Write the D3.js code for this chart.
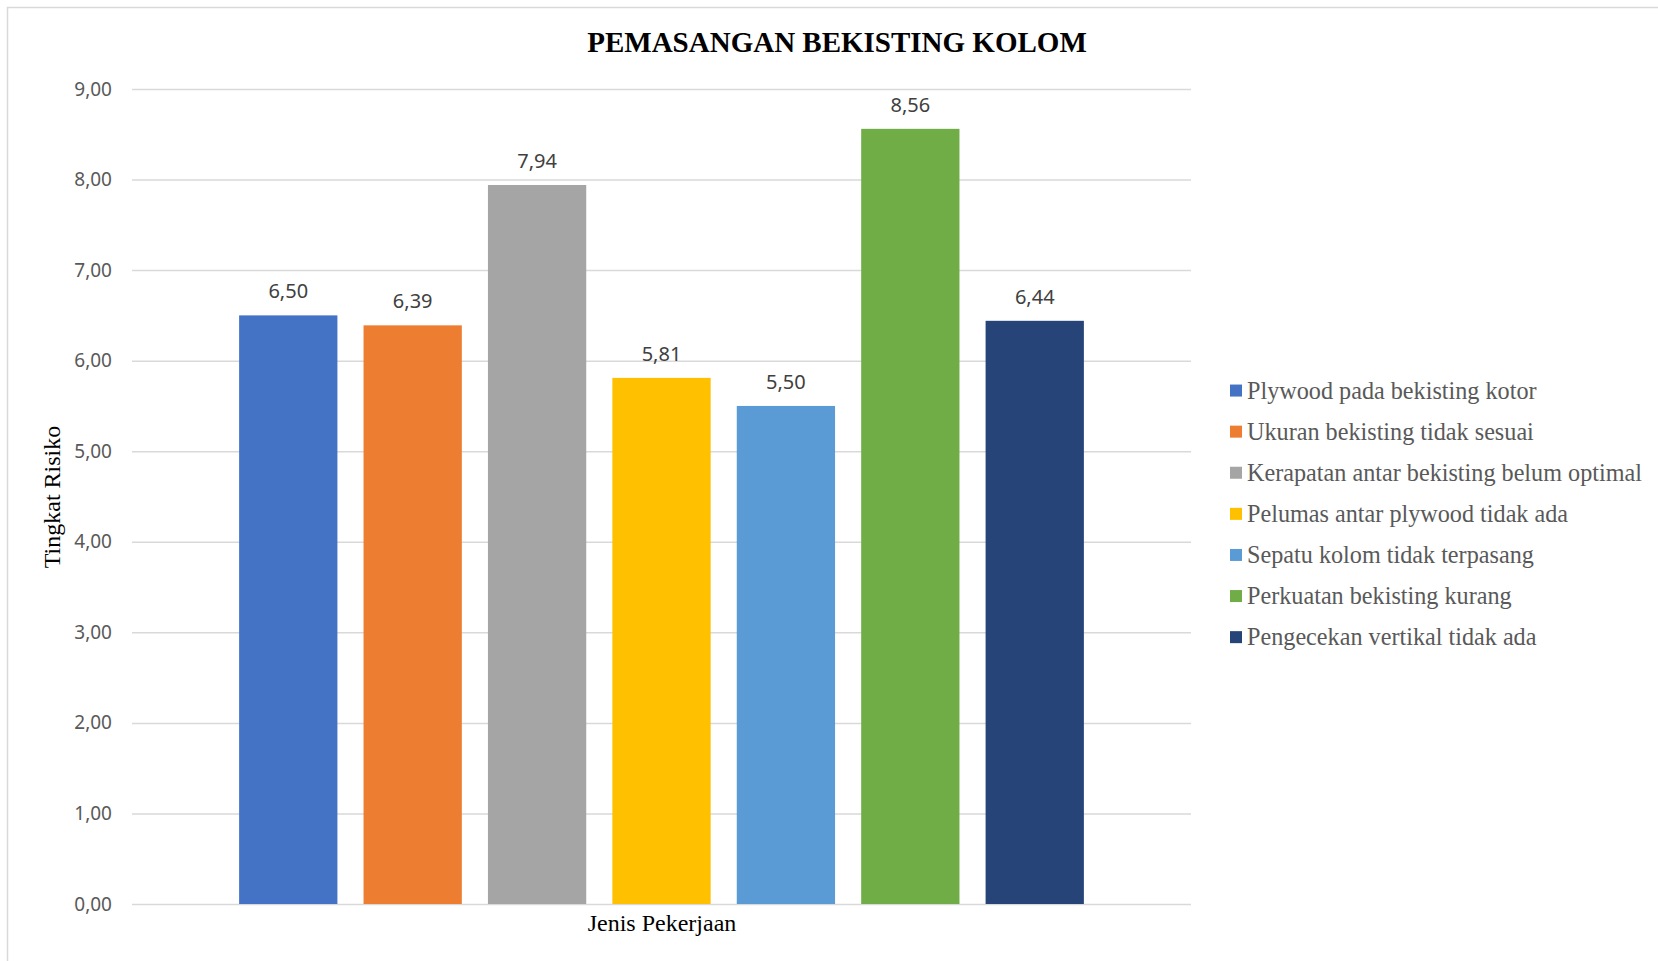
<!DOCTYPE html>
<html>
<head>
<meta charset="utf-8">
<script src="https://cdn.jsdelivr.net/npm/d3@7"></script>
<style>
  body { margin: 0; background: #fff; }
</style>
</head>
<body>
<div id="wrapper"></div>
<script>
// Data
const categories = [
    "Plywood pada bekisting kotor",
    "Ukuran bekisting tidak sesuai",
    "Kerapatan antar bekisting belum optimal",
    "Pelumas antar plywood tidak ada",
    "Sepatu kolom tidak terpasang",
    "Perkuatan bekisting kurang",
    "Pengecekan vertikal tidak ada",
];
const values = [6.50, 6.39, 7.94, 5.81, 5.50, 8.56, 6.44];
const colors = ["#4472C4", "#ED7D31", "#A5A5A5", "#FFC000", "#5B9BD5", "#70AD47", "#264478"];
const yTicks = [0, 1, 2, 3, 4, 5, 6, 7, 8, 9];

const fmt = v => v.toFixed(2).replace(".", ",");

const drawChart = () => {
    const dimensions = {
        width: 1658,
        height: 961,
        plotLeft: 132,
        plotRight: 1191,
        plotTop: 89,
        plotBottom: 904,
    };

    const svg = d3.select("#wrapper")
        .append("svg")
        .attr("width", dimensions.width)
        .attr("height", dimensions.height);

    // outer frame (only top and left visible)
    svg.append("rect")
        .attr("x", 7.5)
        .attr("y", 7.5)
        .attr("width", 1800)
        .attr("height", 1200)
        .attr("fill", "none")
        .attr("stroke", "#d9d9d9")
        .attr("stroke-width", 1.5);

    // Scales
    const xScale = d3.scaleBand()
        .domain(categories)
        .range([dimensions.plotLeft, dimensions.plotRight])
        .paddingInner(0.21)
        .paddingOuter(0.861);
    const yScale = d3.scaleLinear()
        .domain([0, 9])
        .range([dimensions.plotBottom, dimensions.plotTop]);

    // Gridlines + y axis
    const yAxisGenerator = d3.axisLeft(yScale)
        .tickValues(yTicks)
        .tickFormat(fmt)
        .tickSize(-(dimensions.plotRight - dimensions.plotLeft))
        .tickPadding(20);
    const yAxis = svg.append("g")
        .attr("transform", `translate(${dimensions.plotLeft},0)`)
        .call(yAxisGenerator);
    yAxis.select(".domain").remove();
    yAxis.selectAll(".tick line")
        .attr("stroke", "#d9d9d9")
        .attr("stroke-width", 1.5);
    yAxis.selectAll(".tick text")
        .attr("fill", "#595959")
        .style("font-family", "'Noto Sans', 'Open Sans', sans-serif")
        .style("font-size", "19px");

    // Bars
    const data = categories.map((c, i) => ({ name: c, value: values[i], color: colors[i] }));
    svg.append("g")
        .selectAll("rect")
        .data(data)
        .enter().append("rect")
        .attr("x", d => xScale(d.name))
        .attr("y", d => yScale(d.value))
        .attr("width", xScale.bandwidth())
        .attr("height", d => yScale(0) - yScale(d.value))
        .attr("fill", d => d.color);

    // Value labels
    svg.append("g")
        .selectAll("text")
        .data(data)
        .enter().append("text")
        .attr("x", d => xScale(d.name) + xScale.bandwidth() / 2)
        .attr("y", d => yScale(d.value) - 17)
        .attr("text-anchor", "middle")
        .attr("fill", "#404040")
        .style("font-family", "'Noto Sans', 'Open Sans', sans-serif")
        .style("font-size", "20px")
        .text(d => fmt(d.value));

    // Title
    svg.append("text")
        .attr("x", 837)
        .attr("y", 52)
        .attr("text-anchor", "middle")
        .attr("fill", "#000")
        .style("font-family", "'Liberation Serif', 'Times New Roman', serif")
        .style("font-weight", "bold")
        .style("font-size", "29px")
        .text("PEMASANGAN BEKISTING KOLOM");

    // Axis titles
    svg.append("text")
        .attr("x", 662)
        .attr("y", 931)
        .attr("text-anchor", "middle")
        .attr("fill", "#000")
        .style("font-family", "'Liberation Serif', 'Times New Roman', serif")
        .style("font-size", "24px")
        .text("Jenis Pekerjaan");
    svg.append("text")
        .attr("transform", "translate(60,497) rotate(-90)")
        .attr("text-anchor", "middle")
        .attr("fill", "#000")
        .style("font-family", "'Liberation Serif', 'Times New Roman', serif")
        .style("font-size", "24px")
        .text("Tingkat Risiko");

    // Legend
    const legendY = d3.scaleBand()
        .domain(categories)
        .range([370, 370 + 41.1 * categories.length]);
    const legend = svg.append("g")
        .selectAll("g")
        .data(data)
        .enter().append("g")
        .attr("transform", d => `translate(1230,${legendY(d.name) + legendY.bandwidth() / 2})`);
    legend.append("rect")
        .attr("x", 0)
        .attr("y", -6)
        .attr("width", 12)
        .attr("height", 12)
        .attr("fill", d => d.color);
    legend.append("text")
        .attr("x", 17)
        .attr("y", 8)
        .attr("fill", "#595959")
        .style("font-family", "'Liberation Serif', 'Times New Roman', serif")
        .style("font-size", "24.2px")
        .text(d => d.name);
};
drawChart();
</script>
</body>
</html>
